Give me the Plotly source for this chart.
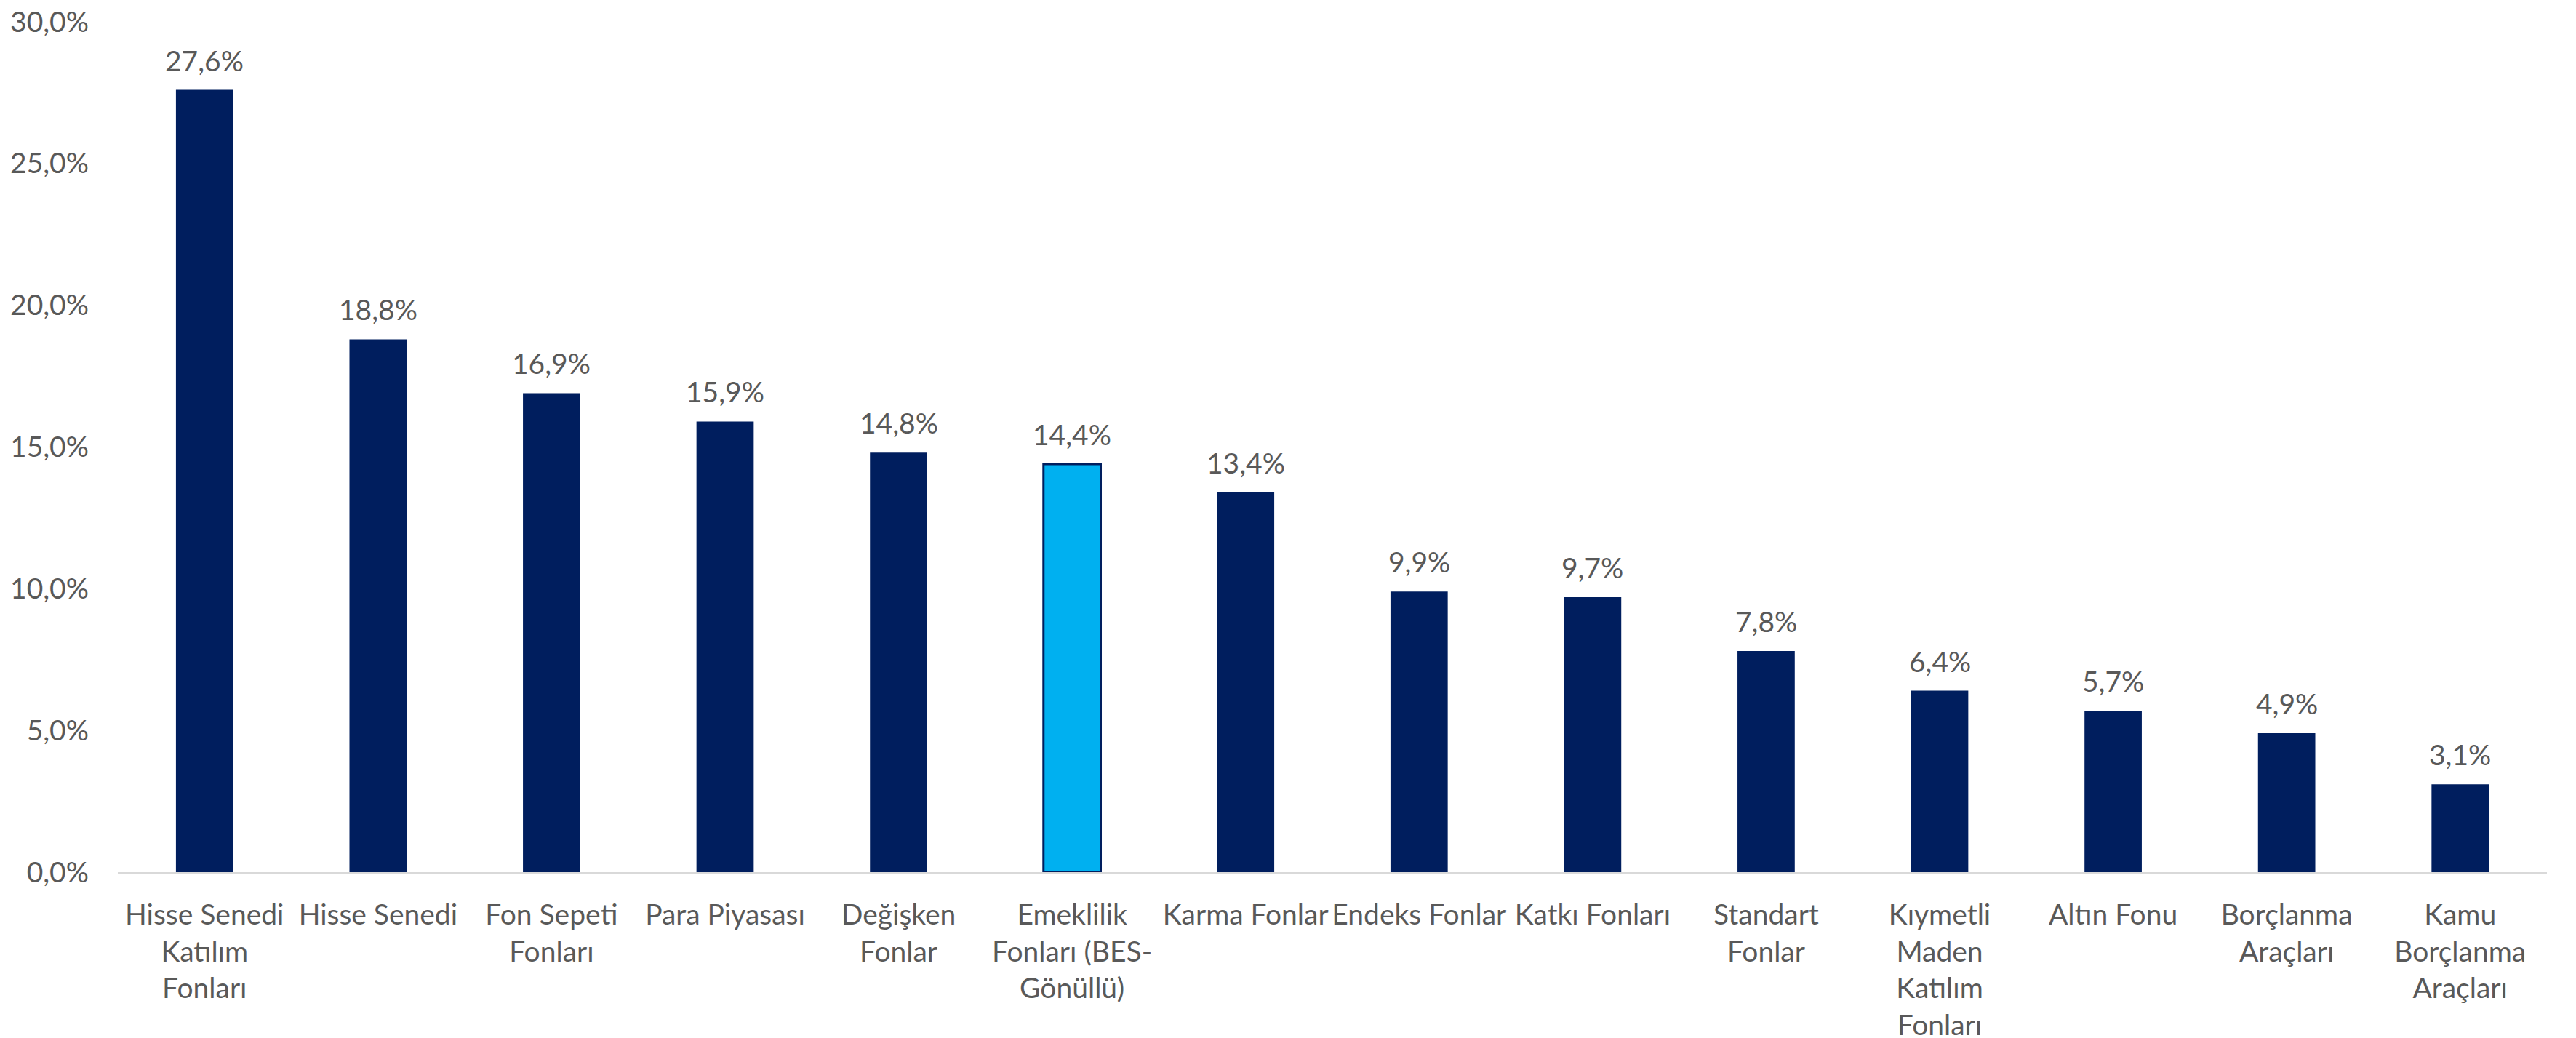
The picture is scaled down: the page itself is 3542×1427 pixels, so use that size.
import plotly.graph_objects as go

categories = [
    "Hisse Senedi<br>Katılım<br>Fonları",
    "Hisse Senedi",
    "Fon Sepeti<br>Fonları",
    "Para Piyasası",
    "Değişken<br>Fonlar",
    "Emeklilik<br>Fonları (BES-<br>Gönüllü)",
    "Karma Fonlar",
    "Endeks Fonlar",
    "Katkı Fonları",
    "Standart<br>Fonlar",
    "Kıymetli<br>Maden<br>Katılım<br>Fonları",
    "Altın Fonu",
    "Borçlanma<br>Araçları",
    "Kamu<br>Borçlanma<br>Araçları",
]
values = [27.6, 18.8, 16.9, 15.9, 14.8, 14.4, 13.4, 9.9, 9.7, 7.8, 6.4, 5.7, 4.9, 3.1]
highlight = "Emeklilik<br>Fonları (BES-<br>Gönüllü)"
y_tick_values = [0, 5, 10, 15, 20, 25, 30]
y_tick_labels = ["0,0%", "5,0%", "10,0%", "15,0%", "20,0%", "25,0%", "30,0%"]

NAVY = "#001E5E"
CYAN = "#00B0F0"
TXT = "#595959"
FONT = "Lato"
FS = 39

colors = [CYAN if c == highlight else NAVY for c in categories]
line_colors = [NAVY for c in categories]
line_widths = [3 if c == highlight else 0 for c in categories]

fig = go.Figure()
fig.add_trace(go.Bar(
    x=categories, y=values,
    marker=dict(color=colors, line=dict(color=line_colors, width=line_widths)),
    width=0.33,
    hoverinfo="skip",
))

for c, v in zip(categories, values):
    fig.add_annotation(
        x=c, y=v, text=f"{v:.1f}%".replace(".", ","),
        showarrow=False, yanchor="bottom", yshift=16,
        font=dict(family=FONT, size=FS, color=TXT),
    )

fig.update_layout(
    width=3542, height=1427,
    margin=dict(l=154, r=48, t=22, b=236),
    paper_bgcolor="white", plot_bgcolor="white",
    separators=",.",
    showlegend=False,
    font=dict(family=FONT, size=FS, color=TXT),
)
fig.update_yaxes(
    range=[0, 30], tickmode="array",
    tickvals=y_tick_values, ticktext=y_tick_labels,
    showgrid=False, zeroline=False, showline=False,
    ticklabelstandoff=39, ticklabeloverflow="allow",
    automargin=False,
    tickfont=dict(family=FONT, size=FS, color=TXT),
)
fig.update_xaxes(
    showline=True, linecolor="#D9D9D9", linewidth=3,
    showgrid=False, ticks="", tickangle=0,
    ticklabelstandoff=22, ticklabeloverflow="allow",
    automargin=False,
    tickfont=dict(family=FONT, size=FS, color=TXT),
)

fig.write_html("out.html")
